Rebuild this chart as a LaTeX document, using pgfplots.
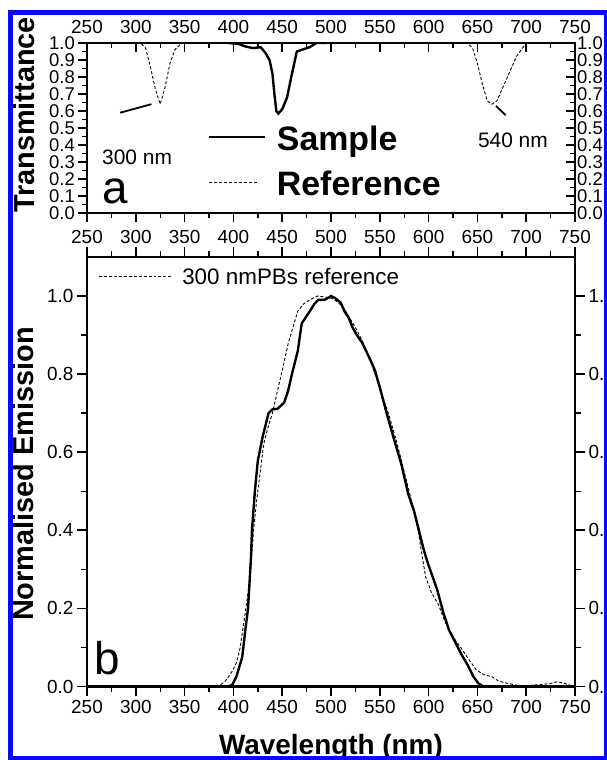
\documentclass[border=0pt]{standalone}
\usepackage{pgfplots}
\pgfplotsset{compat=1.18}
\usepackage{fontspec}
\setmainfont{Liberation Sans}
\definecolor{frameblue}{RGB}{10,10,250}

\pgfplotstableread{
x y
395 1.0
405 0.995
412 0.98
420 0.97
428 0.975
433 0.94
437 0.90
440 0.82
442 0.70
444 0.60
446 0.585
450 0.61
455 0.68
460 0.82
465 0.95
470 0.96
478 0.975
485 1.0
495 1.0
}\sampleA

\pgfplotstableread{
x y
250 1.0
305 1.0
310 0.97
315 0.86
320 0.73
325 0.64
330 0.74
335 0.88
340 0.96
347 1.0
640 1.0
645 0.97
650 0.88
655 0.76
660 0.66
665 0.64
670 0.66
680 0.79
690 0.92
700 1.0
750 1.0
}\refA

\pgfplotstableread{
x y
250 0.0
395 0.0
399 0.005
403 0.025
406 0.05
409 0.075
412 0.14
415 0.20
418 0.33
419 0.40
422 0.50
425 0.578
430 0.64
436 0.70
440 0.71
445 0.711
449 0.72
452 0.727
456 0.757
460 0.80
466 0.86
470 0.93
474 0.945
478 0.96
483 0.98
487 0.99
493 0.99
497 0.995
500 1.0
504 0.995
510 0.983
514 0.96
518 0.945
522 0.92
526 0.902
532 0.88
540 0.838
545 0.81
550 0.766
557 0.70
564 0.638
572 0.57
579 0.494
585 0.45
590 0.40
595 0.35
600 0.31
605 0.275
609 0.246
615 0.19
621 0.144
627 0.115
633 0.085
640 0.055
646 0.025
651 0.008
656 0.0
750 0.0
}\sampleB

\pgfplotstableread{
x y
250 0.0
350 0.0
355 0.004
360 0.001
370 0.002
380 0.0
386 0.003
391 0.012
395 0.025
399 0.04
403 0.06
407 0.10
411 0.17
415 0.24
418 0.31
421 0.41
424 0.48
427 0.54
431 0.62
435 0.66
440 0.70
446 0.766
451 0.82
456 0.877
461 0.92
466 0.962
472 0.98
478 0.99
486 1.0
493 0.998
500 0.995
507 0.985
514 0.966
520 0.94
526 0.915
532 0.885
538 0.85
545 0.80
552 0.75
560 0.69
568 0.62
576 0.54
583 0.47
588 0.42
593 0.34
597 0.28
603 0.24
610 0.21
617 0.165
624 0.13
633 0.10
641 0.07
649 0.042
657 0.03
665 0.025
671 0.015
677 0.01
685 0.006
692 0.002
700 0.001
708 0.004
716 0.005
725 0.008
732 0.012
738 0.009
744 0.004
750 0.0
}\refB

\pgfplotsset{
  every axis/.append style={
    scale only axis,
    /pgf/number format/assume math mode=true,
    /pgf/number format/fixed,
    /pgf/number format/fixed zerofill,
    /pgf/number format/precision=1,
    tick label style={font=\fontsize{19}{20}\selectfont, text=black},
    xtick={250,300,...,750},
    minor x tick num=1,
    xmin=250, xmax=750,
    axis line style={line width=2.1pt},
    major tick style={line width=1.7pt, black},
    minor tick style={line width=1.4pt, black},
    xticklabel style={/pgf/number format/precision=0, /pgf/number format/fixed zerofill=false},
  }
}

\begin{document}
\begin{tikzpicture}[x=1bp,y=1bp]
\path[use as bounding box] (0,0) rectangle (607,760);
\begin{scope}
\clip (10,2) rectangle (606,747);

% ---------------- panel a ----------------
\begin{axis}[
  at={(87bp,547bp)}, anchor=south west,
  width=488bp, height=170bp,
  ymin=0, ymax=1,
  ytick={0,0.1,...,1.0},
  minor y tick num=1,
  xtick pos=lower, ytick pos=left,
  xticklabels={},
  yticklabel style={font=\fontsize{18.5}{19}\selectfont, inner ysep=0.5pt, inner xsep=3pt},
  tick align=outside,
  major tick length=9bp, minor tick length=5bp,
  clip=true,
]
\addplot[line width=2.4pt, black] table {\sampleA};
\addplot[line width=0.9pt, black, dash pattern=on 3pt off 2pt] table {\refA};
\draw[line width=1.8pt] (axis cs:284,0.59) -- (axis cs:316,0.64);
\draw[line width=1.8pt] (axis cs:669,0.63) -- (axis cs:679,0.575);
\node[anchor=base west, font=\fontsize{21}{22}\selectfont] at (axis cs:262,0.285) {300 nm};
\node[anchor=base west, font=\fontsize{21}{22}\selectfont] at (axis cs:647,0.385) {540 nm};
\draw[line width=2.2pt] (axis cs:375,0.447) -- (axis cs:432,0.447);
\node[anchor=base west, font=\fontsize{34}{36}\selectfont\bfseries] at (axis cs:441,0.37) {Sample};
\draw[line width=0.9pt, dash pattern=on 3pt off 2pt] (axis cs:375,0.182) -- (axis cs:424,0.182);
\node[anchor=base west, font=\fontsize{34}{36}\selectfont\bfseries] at (axis cs:441,0.105) {Reference};
\node[anchor=base west, font=\fontsize{46}{48}\selectfont] at (axis cs:262,0.055) {a};
\end{axis}
% top and right of panel a (inward ticks, labels)
\begin{axis}[
  at={(87bp,547bp)}, anchor=south west,
  width=488bp, height=170bp,
  ymin=0, ymax=1,
  ytick={0,0.1,...,1.0},
  minor y tick num=1,
  xtick pos=upper, ytick pos=right,
  xticklabel pos=upper, yticklabel pos=right,
  xticklabel style={yshift=6bp},
  yticklabel style={font=\fontsize{18.5}{19}\selectfont, inner ysep=0.5pt, inner xsep=3pt, xshift=-1bp},
  tick align=inside,
  major tick length=9bp, minor tick length=5bp,
]
\end{axis}

% ---------------- panel b ----------------
\begin{axis}[
  at={(87bp,73.5bp)}, anchor=south west,
  width=488bp, height=429.5bp,
  ymin=0, ymax=1.1,
  ytick={0,0.2,...,1.0},
  minor y tick num=1,
  xtick pos=lower, ytick pos=left,
  tick align=outside,
  major tick length=10bp, minor tick length=6bp,
  clip=true,
]
\addplot[line width=0.9pt, black, dash pattern=on 3pt off 2pt] table {\refB};
\addplot[line width=2.4pt, black] table {\sampleB};
\draw[line width=0.9pt, dash pattern=on 3pt off 2pt] (axis cs:262,1.051) -- (axis cs:337,1.051);
\node[anchor=west, font=\fontsize{22.5}{24}\selectfont] at (axis cs:344,1.051) {300 nmPBs reference};
\node[anchor=base west, font=\fontsize{46}{48}\selectfont] at (axis cs:254,0.03) {b};
\end{axis}
\begin{axis}[
  at={(87bp,73.5bp)}, anchor=south west,
  width=488bp, height=429.5bp,
  ymin=0, ymax=1.1,
  ytick={0,0.2,...,1.0},
  minor y tick num=1,
  xtick pos=upper, ytick pos=right,
  xticklabel pos=upper, yticklabel pos=right,
  tick align=outside,
  major tick length=10bp, minor tick length=6bp,
]
\end{axis}

% axis titles
\node[rotate=90, font=\fontsize{29}{30}\selectfont\bfseries] at (24,645) {Transmittance};
\node[rotate=90, font=\fontsize{29}{30}\selectfont\bfseries] at (23,286) {Normalised Emission};
\node[anchor=base, font=\fontsize{28}{30}\selectfont\bfseries] at (331,5) {Wavelength (nm)};
\end{scope}
\draw[frameblue, line width=4.5bp] (10.5,1.5) rectangle (606.5,747.5);
\end{tikzpicture}
\end{document}
